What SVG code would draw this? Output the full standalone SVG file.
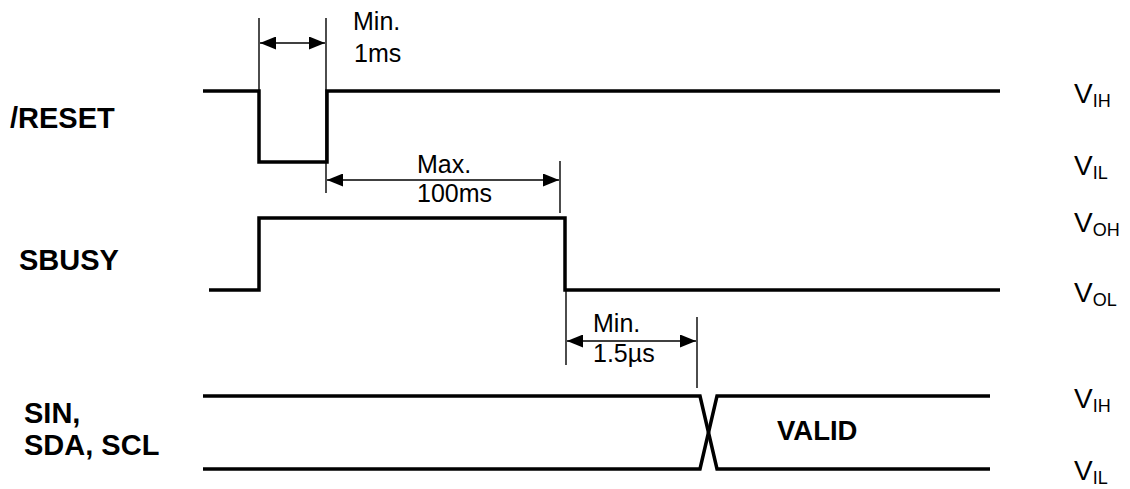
<svg xmlns="http://www.w3.org/2000/svg" width="1130" height="489" viewBox="0 0 1130 489">
<style>
.sig{fill:none;stroke:#000;stroke-width:3.5;stroke-linejoin:miter;stroke-linecap:butt}
.tick{fill:none;stroke:#000;stroke-width:1.4}
.dim{fill:none;stroke:#000;stroke-width:1.6;marker-start:url(#ah);marker-end:url(#ah)}
.lbl{font-family:"Liberation Sans",Arial,sans-serif;font-weight:bold;font-size:29px;fill:#000}
.txt{font-family:"Liberation Sans",Arial,sans-serif;font-size:25px;fill:#000}
.v{font-family:"Liberation Sans",Arial,sans-serif;font-size:28px;fill:#000}
.sub{font-size:18px}
</style>
<defs>
<marker id="ah" viewBox="0 0 16 13" refX="16" refY="6.5" markerWidth="16" markerHeight="13" markerUnits="userSpaceOnUse" orient="auto-start-reverse">
<path d="M0,0 L16,6.5 L0,13 Z" fill="#000"/>
</marker>
</defs>
<g id="signal-reset">
<text class="lbl" x="10" y="128">/RESET</text>
<path class="sig" d="M203,91 H259 V162 H327 V91 H1000"/>
</g>
<g id="signal-sbusy">
<text class="lbl" x="19" y="270">SBUSY</text>
<path class="sig" d="M209,290 H259 V218 H565 V290 H1000"/>
</g>
<g id="signal-sin">
<text class="lbl" x="24" y="423">SIN,</text>
<text class="lbl" x="24" y="455">SDA, SCL</text>
<path class="sig" d="M203,396 H700 L717,469 H990"/>
<path class="sig" d="M203,469 H700 L717,396 H990"/>
<text class="lbl" x="777" y="440" style="font-size:27.5px">VALID</text>
</g>
<g id="levels">
<text class="v" x="1074" y="103">V<tspan class="sub" dy="4">IH</tspan></text>
<text class="v" x="1074" y="175">V<tspan class="sub" dy="4">IL</tspan></text>
<text class="v" x="1074" y="232">V<tspan class="sub" dy="4">OH</tspan></text>
<text class="v" x="1074" y="302">V<tspan class="sub" dy="4">OL</tspan></text>
<text class="v" x="1074" y="408">V<tspan class="sub" dy="4">IH</tspan></text>
<text class="v" x="1074" y="480">V<tspan class="sub" dy="4">IL</tspan></text>
</g>
<g id="connectors">
<line class="tick" x1="259" y1="18" x2="259" y2="91"/>
<line class="tick" x1="326" y1="18" x2="326" y2="193"/>
<line class="dim" x1="260" y1="43" x2="325" y2="43"/>
<line class="tick" x1="560" y1="161" x2="560" y2="213"/>
<line class="dim" x1="327" y1="180" x2="559" y2="180"/>
<line class="tick" x1="566" y1="290" x2="566" y2="365"/>
<line class="tick" x1="697" y1="317" x2="697" y2="388"/>
<line class="dim" x1="567" y1="341" x2="696" y2="341"/>
</g>
<g id="dim-labels">
<text class="txt" x="353" y="30">Min.</text>
<text class="txt" x="354" y="62">1ms</text>
<text class="txt" x="417" y="173">Max.</text>
<text class="txt" x="417" y="202">100ms</text>
<text class="txt" x="593" y="332">Min.</text>
<text class="txt" x="593" y="362">1.5µs</text>
</g>
</svg>
